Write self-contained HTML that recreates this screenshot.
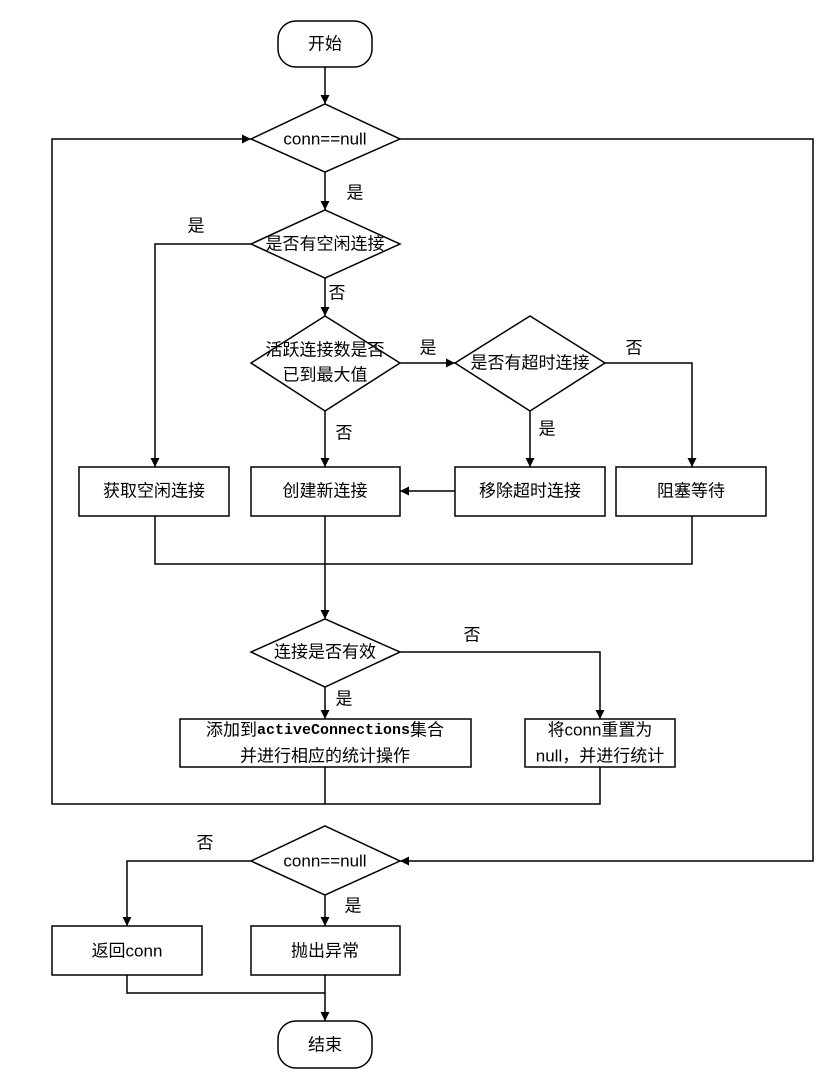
<!DOCTYPE html>
<html><head><meta charset="utf-8"><style>
html,body{margin:0;padding:0;background:#fff;}
svg{display:block;}
text{font-family:"Liberation Sans Narrow","Liberation Sans","Noto Sans CJK SC",sans-serif;font-size:17px;fill:#000;text-anchor:middle;dominant-baseline:central;}
.m{font-family:"Liberation Mono","Noto Sans CJK SC",monospace;font-weight:bold;font-size:15px;}
</style></head><body>
<svg width="834" height="1079" viewBox="0 0 834 1079" xmlns="http://www.w3.org/2000/svg">
<defs><marker id="a" viewBox="0 0 10 10" refX="10" refY="5" markerWidth="9" markerHeight="9" markerUnits="userSpaceOnUse" orient="auto"><path d="M0,0L10,5L0,10z" fill="#000"/></marker></defs>
<g fill="#fff" stroke="#000" stroke-width="1.5">
<rect x="278" y="21" width="94" height="46" rx="18"/>
<rect x="278" y="1021" width="94" height="47" rx="18"/>
<path d="M251,139L325,104L400,139L325,172z"/>
<path d="M251,244L325,210L400,244L325,278z"/>
<path d="M251,363L325,316L400,363L325,411z"/>
<path d="M455,363L530,316L605,363L530,411z"/>
<path d="M251,652L325,619L400,652L325,687z"/>
<path d="M251,861L325,826L400,861L325,895z"/>
<rect x="79" y="467" width="150" height="49"/>
<rect x="251" y="467" width="149" height="49"/>
<rect x="455" y="467" width="150" height="49"/>
<rect x="616" y="467" width="150" height="49"/>
<rect x="180" y="719" width="291" height="48"/>
<rect x="525" y="719" width="150" height="48"/>
<rect x="52" y="926" width="150" height="49"/>
<rect x="251" y="926" width="149" height="49"/>
</g>
<g fill="none" stroke="#000" stroke-width="1.5">
<path d="M325,67V104" marker-end="url(#a)"/>
<path d="M325,804H52V139H251" marker-end="url(#a)"/>
<path d="M400,139H813V861H400" marker-end="url(#a)"/>
<path d="M325,172V210" marker-end="url(#a)"/>
<path d="M251,244H155V467" marker-end="url(#a)"/>
<path d="M325,278V316" marker-end="url(#a)"/>
<path d="M400,363H455" marker-end="url(#a)"/>
<path d="M605,363H692V467" marker-end="url(#a)"/>
<path d="M530,411V467" marker-end="url(#a)"/>
<path d="M325,411V467" marker-end="url(#a)"/>
<path d="M455,491H400" marker-end="url(#a)"/>
<path d="M155,516V564H692V516"/>
<path d="M325,516V619" marker-end="url(#a)"/>
<path d="M400,652H600V719" marker-end="url(#a)"/>
<path d="M325,687V719" marker-end="url(#a)"/>
<path d="M325,767V804H600V767"/>
<path d="M251,861H127V926" marker-end="url(#a)"/>
<path d="M325,895V926" marker-end="url(#a)"/>
<path d="M127,975V993H325"/>
<path d="M325,975V1021" marker-end="url(#a)"/>
</g>
<text x="325" y="44">开始</text>
<text x="325" y="139">conn==null</text>
<text x="355" y="193">是</text>
<text x="325" y="244">是否有空闲连接</text>
<text x="196" y="226">是</text>
<text x="337" y="293">否</text>
<text x="325" y="350">活跃连接数是否</text>
<text x="325" y="375">已到最大值</text>
<text x="428" y="348">是</text>
<text x="530" y="363">是否有超时连接</text>
<text x="634" y="348">否</text>
<text x="547" y="429">是</text>
<text x="344" y="433">否</text>
<text x="154" y="491">获取空闲连接</text>
<text x="325" y="491">创建新连接</text>
<text x="530" y="491">移除超时连接</text>
<text x="691" y="491">阻塞等待</text>
<text x="325" y="652">连接是否有效</text>
<text x="472" y="635">否</text>
<text x="344" y="699">是</text>
<text x="325" y="730">添加到<tspan class="m">activeConnections</tspan>集合</text>
<text x="325" y="756">并进行相应的统计操作</text>
<text x="600" y="730">将conn重置为</text>
<text x="600" y="756">null，并进行统计</text>
<text x="325" y="861">conn==null</text>
<text x="205" y="843">否</text>
<text x="353" y="906">是</text>
<text x="127" y="951">返回conn</text>
<text x="325" y="951">抛出异常</text>
<text x="325" y="1045">结束</text>
</svg>
</body></html>
